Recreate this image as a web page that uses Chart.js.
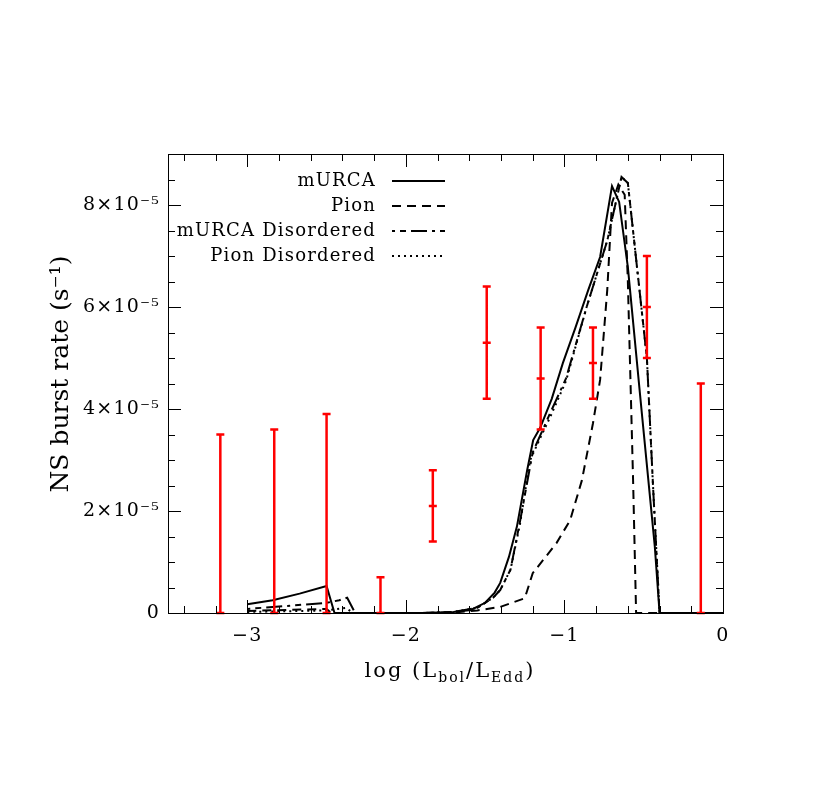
<!DOCTYPE html>
<html>
<head>
<meta charset="utf-8">
<script src="https://cdn.jsdelivr.net/npm/chart.js@4"></script>
<style>
  html, body { margin: 0; padding: 0; background: #fff; }
  #wrap { width: 830px; height: 785px; }
</style>
</head>
<body>
<div id="wrap"><canvas id="chart" width="830" height="785"></canvas></div>
<script>
// 曲線データ (x: log Lbol/LEdd, y: burst rate in units of 1e-5 s^-1)
const murcaX = [-3.0, -2.84, -2.67, -2.5, -2.45, -2.2, -1.9, -1.7, -1.59, -1.5, -1.44, -1.405, -1.35, -1.30, -1.235, -1.197, -1.153, -1.08, -1.01, -0.93, -0.85, -0.775, -0.70, -0.655, -0.60, -0.52, -0.43, -0.40, 0.0];
const murcaY = [0.17, 0.25, 0.38, 0.53, 0, 0, 0, 0.02, 0.06, 0.2, 0.4, 0.59, 1.1, 1.69, 2.8, 3.39, 3.63, 4.2, 4.9, 5.6, 6.33, 6.98, 8.37, 8.06, 6.78, 4.18, 1.3, 0, 0];

const pionX = [-3.0, -2.5, -2.47, -2.2, -1.9, -1.7, -1.55, -1.405, -1.25, -1.20, -1.05, -0.964, -0.89, -0.82, -0.775, -0.73, -0.70, -0.66, -0.62, -0.60, -0.567, -0.548, 0.0];
const pionY = [0.04, 0.08, 0, 0, 0, 0.01, 0.05, 0.12, 0.29, 0.78, 1.37, 1.82, 2.6, 3.72, 4.57, 6.33, 8.04, 8.4, 8.2, 6.5, 2.6, 0, 0];

const murcaDisX = [-3.0, -2.7, -2.5, -2.42, -2.37, -2.32, -2.2, -1.9, -1.7, -1.55, -1.45, -1.405, -1.34, -1.28, -1.20, -1.10, -0.99, -0.86, -0.73, -0.64, -0.60, -0.48, -0.44, -0.40, 0.0];
const murcaDisY = [0.08, 0.15, 0.2, 0.25, 0.3, 0, 0, 0, 0.02, 0.1, 0.3, 0.45, 0.85, 1.8, 3.15, 3.85, 4.6, 6.0, 7.3, 8.55, 8.43, 5.0, 2.41, 0, 0];

const pionDisX = [-3.0, -2.5, -2.38, -2.33, -2.2, -1.9, -1.7, -1.55, -1.45, -1.405, -1.34, -1.28, -1.216, -1.15, -1.09, -0.99, -0.86, -0.73, -0.64, -0.60, -0.48, -0.44, -0.40, 0.0];
const pionDisY = [0.02, 0.05, 0.1, 0, 0, 0, 0.02, 0.1, 0.3, 0.45, 0.85, 1.75, 3.0, 3.45, 3.84, 4.55, 6.0, 7.3, 8.55, 8.43, 5.0, 2.41, 0, 0];

// 観測値 (エラーバー)
const obsX   = [-3.17, -2.83, -2.50, -2.16, -1.83, -1.49, -1.15, -0.82, -0.48, -0.14];
const obsLo  = [0, 0, 0, 0, 1.4, 4.2, 3.6, 4.2, 5.0, 0];
const obsMid = [null, null, null, null, 2.1, 5.3, 4.6, 4.9, 6.0, null];
const obsHi  = [3.5, 3.6, 3.9, 0.7, 2.8, 6.4, 5.6, 5.6, 7.0, 4.5];

const xMajor = [-3, -2, -1, 0];
const yMajor = [0, 2, 4, 6, 8];
const SCALE = 1e-5;

const FONT = '"DejaVu Serif", serif';

function toPoints(xs, ys) {
    return xs.map((x, i) => ({ x: x, y: ys[i] * SCALE }));
}

function supDigits(s) {
    const map = { '-': '⁻', '0': '⁰', '1': '¹', '2': '²', '3': '³', '4': '⁴', '5': '⁵', '6': '⁶', '7': '⁷', '8': '⁸', '9': '⁹' };
    return s.split('').map(c => map[c] || c).join('');
}

// 目盛りラベルの字間を広げる
const spacingPlugin = {
    id: 'spacing',
    beforeDraw(chart) {
        chart.ctx.letterSpacing = '1.2px';
    }
};

// 枠と内向き目盛り
const framePlugin = {
    id: 'frame',
    afterDraw(chart) {
        const { ctx, chartArea: a, scales: { x, y } } = chart;
        ctx.save();
        ctx.strokeStyle = '#000';
        ctx.lineWidth = 1;
        ctx.strokeRect(a.left + 0.5, a.top + 0.5, a.right - a.left, a.bottom - a.top);
        ctx.beginPath();
        for (let v = -3.4; v < 0; v += 0.2) {
            const major = Math.abs(v - Math.round(v)) < 1e-6;
            const len = major ? 13 : 7;
            const px = Math.round(x.getPixelForValue(v)) + 0.5;
            ctx.moveTo(px, a.bottom); ctx.lineTo(px, a.bottom - len);
            ctx.moveTo(px, a.top); ctx.lineTo(px, a.top + len);
        }
        for (let v = 0.5; v < 9; v += 0.5) {
            const major = Math.abs(v / 2 - Math.round(v / 2)) < 1e-6;
            const len = major ? 13 : 7;
            const py = Math.round(y.getPixelForValue(v * SCALE)) + 0.5;
            ctx.moveTo(a.left, py); ctx.lineTo(a.left + len, py);
            ctx.moveTo(a.right, py); ctx.lineTo(a.right - len, py);
        }
        ctx.stroke();

        // 軸タイトル
        ctx.fillStyle = '#000';
        ctx.textBaseline = 'alphabetic';
        ctx.letterSpacing = '2px';
        // x: log (L_bol/L_Edd)
        const parts = [
            ['log (L', 21, 0], ['bol', 14, 5], ['/L', 21, 0], ['Edd', 14, 5], [')', 21, 0]
        ];
        let total = 0;
        parts.forEach(p => { ctx.font = p[1] + 'px ' + FONT; total += ctx.measureText(p[0]).width; });
        let cx = 450 - total / 2;
        parts.forEach(p => {
            ctx.font = p[1] + 'px ' + FONT;
            ctx.fillText(p[0], cx, 677 + p[2]);
            cx += ctx.measureText(p[0]).width;
        });
        // y: NS burst rate (s^-1)
        ctx.save();
        ctx.letterSpacing = '0px';
        ctx.translate(68, 374);
        ctx.rotate(-Math.PI / 2);
        ctx.font = '25px ' + FONT;
        ctx.textAlign = 'center';
        ctx.fillText('NS burst rate (s⁻¹)', 0, 0);
        ctx.restore();
        ctx.restore();
    }
};

// エラーバー
const errorBarPlugin = {
    id: 'errorBars',
    afterDatasetsDraw(chart) {
        const { ctx, scales: { x, y } } = chart;
        ctx.save();
        ctx.strokeStyle = '#ff0000';
        ctx.lineWidth = 2.5;
        ctx.beginPath();
        obsX.forEach((v, i) => {
            const px = x.getPixelForValue(v);
            const lo = y.getPixelForValue(obsLo[i] * SCALE);
            const hi = y.getPixelForValue(obsHi[i] * SCALE);
            ctx.moveTo(px, lo); ctx.lineTo(px, hi);
            ctx.moveTo(px - 4, hi); ctx.lineTo(px + 4, hi);
            ctx.moveTo(px - 4, lo); ctx.lineTo(px + 4, lo);
            if (obsMid[i] !== null) {
                const mid = y.getPixelForValue(obsMid[i] * SCALE);
                ctx.moveTo(px - 4, mid); ctx.lineTo(px + 4, mid);
            }
        });
        ctx.stroke();
        ctx.restore();
    }
};

// 凡例 (右寄せテキスト + 線種サンプル)
const legendPlugin = {
    id: 'customLegend',
    afterDraw(chart) {
        const { ctx } = chart;
        ctx.save();
        ctx.font = '18px ' + FONT;
        ctx.letterSpacing = '1.2px';
        ctx.fillStyle = '#000';
        ctx.textAlign = 'right';
        ctx.textBaseline = 'middle';
        chart.data.datasets.forEach((ds, i) => {
            const yy = 181 + i * 25;
            ctx.fillText(ds.label, 376, yy);
            ctx.strokeStyle = '#000';
            ctx.lineWidth = 2;
            ctx.setLineDash(ds.borderDash || []);
            ctx.beginPath();
            ctx.moveTo(392, yy);
            ctx.lineTo(445, yy);
            ctx.stroke();
        });
        ctx.restore();
    }
};

function lineDataset(label, xs, ys, dash) {
    return {
        type: 'line',
        label: label,
        data: toPoints(xs, ys),
        borderColor: '#000',
        borderWidth: 2,
        borderDash: dash,
        pointRadius: 0,
        tension: 0,
        fill: false,
    };
}

new Chart(document.getElementById('chart').getContext('2d'), {
    type: 'line',
    data: {
        datasets: [
            lineDataset('mURCA', murcaX, murcaY, []),
            lineDataset('Pion', pionX, pionY, [9, 6]),
            lineDataset('mURCA Disordered', murcaDisX, murcaDisY, [3, 5, 6, 5, 16, 5]),
            lineDataset('Pion Disordered', pionDisX, pionDisY, [2, 4]),
        ],
    },
    options: {
        responsive: false,
        animation: false,
        layout: { padding: { top: 154, right: 107, left: 0, bottom: 0 } },
        plugins: {
            legend: { display: false },
            tooltip: { enabled: false },
        },
        scales: {
            x: {
                type: 'linear',
                min: -3.5,
                max: 0,
                afterFit(scale) { scale.height = 172; },
                afterBuildTicks(scale) { scale.ticks = xMajor.map(v => ({ value: v })); },
                grid: { display: false, drawTicks: false },
                border: { display: true, color: '#000' },
                ticks: {
                    autoSkip: false,
                    maxRotation: 0,
                    padding: 12,
                    color: '#000',
                    font: { family: FONT, size: 19 },
                    callback: v => (v < 0 ? '−' + Math.abs(v) : String(v)),
                },
            },
            y: {
                type: 'linear',
                min: 0,
                max: 9 * SCALE,
                afterFit(scale) { scale.width = 168; },
                afterBuildTicks(scale) { scale.ticks = yMajor.map(v => ({ value: v * SCALE })); },
                grid: { display: false, drawTicks: false },
                border: { display: true, color: '#000' },
                ticks: {
                    autoSkip: false,
                    padding: 8,
                    color: '#000',
                    font: { family: FONT, size: 19 },
                    callback: v => {
                        const m = Math.round(v / SCALE);
                        return m === 0 ? '0' : m + '×10' + supDigits('-5');
                    },
                },
            },
        },
    },
    plugins: [spacingPlugin, errorBarPlugin, framePlugin, legendPlugin],
});
</script>
</body>
</html>
